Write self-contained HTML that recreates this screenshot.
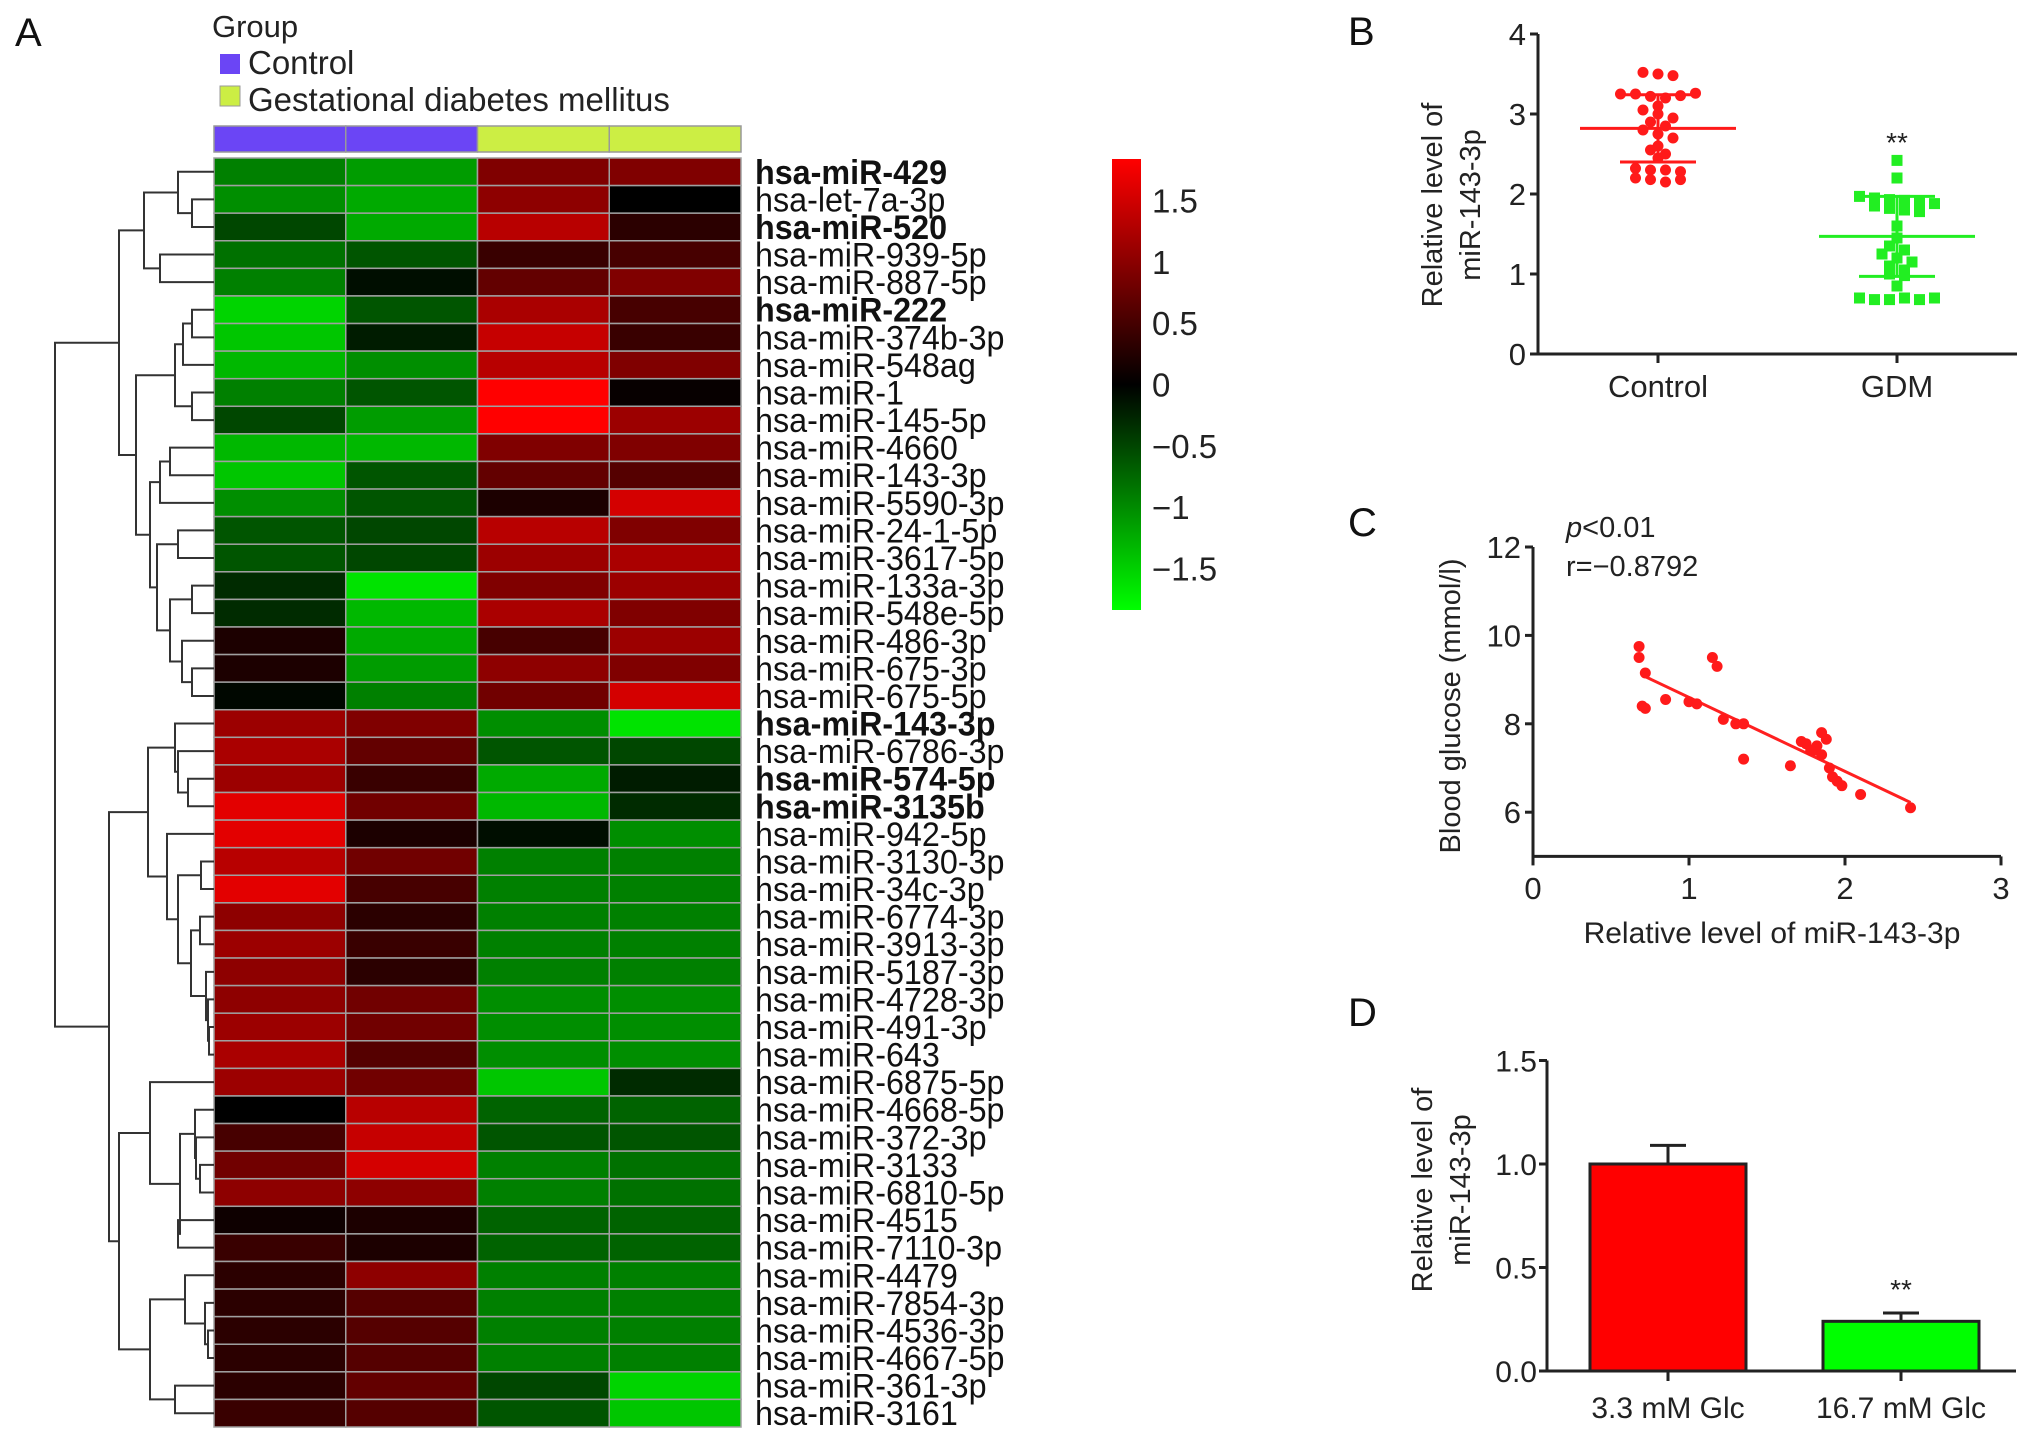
<!DOCTYPE html>
<html><head><meta charset="utf-8"><style>
html,body{margin:0;padding:0;background:#fff}
svg{display:block;font-family:"Liberation Sans",Arial,sans-serif}
</style></head><body>
<svg id="fig" width="2032" height="1445" viewBox="0 0 2032 1445" xmlns="http://www.w3.org/2000/svg">
<g id="A"></g>
<g id="B"></g>
<g id="C"></g>
<g id="D"></g>
</svg>
<script>
// ---------- Panel A data ----------
const geneLabels = ["hsa-miR-429","hsa-let-7a-3p","hsa-miR-520","hsa-miR-939-5p","hsa-miR-887-5p","hsa-miR-222","hsa-miR-374b-3p","hsa-miR-548ag","hsa-miR-1","hsa-miR-145-5p","hsa-miR-4660","hsa-miR-143-3p","hsa-miR-5590-3p","hsa-miR-24-1-5p","hsa-miR-3617-5p","hsa-miR-133a-3p","hsa-miR-548e-5p","hsa-miR-486-3p","hsa-miR-675-3p","hsa-miR-675-5p","hsa-miR-143-3p","hsa-miR-6786-3p","hsa-miR-574-5p","hsa-miR-3135b","hsa-miR-942-5p","hsa-miR-3130-3p","hsa-miR-34c-3p","hsa-miR-6774-3p","hsa-miR-3913-3p","hsa-miR-5187-3p","hsa-miR-4728-3p","hsa-miR-491-3p","hsa-miR-643","hsa-miR-6875-5p","hsa-miR-4668-5p","hsa-miR-372-3p","hsa-miR-3133","hsa-miR-6810-5p","hsa-miR-4515","hsa-miR-7110-3p","hsa-miR-4479","hsa-miR-7854-3p","hsa-miR-4536-3p","hsa-miR-4667-5p","hsa-miR-361-3p","hsa-miR-3161"];
const boldRows = [0,2,5,20,22,23];
const sampleGroups = ["Control","Control","GDM","GDM"];
const heatValues = [
[-0.9,-1.1,0.9,0.9],[-1.0,-1.2,1.0,0.0],[-0.5,-1.2,1.3,0.3],[-0.8,-0.6,0.4,0.5],[-0.9,-0.1,0.7,0.9],
[-1.5,-0.6,1.2,0.5],[-1.4,-0.2,1.4,0.4],[-1.3,-1.0,1.3,0.9],[-0.9,-0.6,1.8,0.05],[-0.5,-1.1,1.8,1.1],
[-1.3,-1.3,0.9,0.9],[-1.4,-0.6,0.7,0.6],[-1.0,-0.6,0.2,1.5],[-0.6,-0.5,1.3,0.9],[-0.6,-0.5,1.1,1.2],
[-0.3,-1.6,0.9,1.1],[-0.3,-1.3,1.2,0.9],[0.2,-1.2,0.5,1.1],[0.2,-1.1,1.0,0.9],[-0.05,-0.9,0.8,1.5],
[1.1,0.9,-1.0,-1.6],[1.2,0.7,-0.6,-0.5],[1.1,0.4,-1.2,-0.2],[1.6,0.8,-1.3,-0.3],[1.6,0.2,-0.1,-1.0],
[1.3,0.8,-0.9,-0.9],[1.6,0.5,-0.9,-0.9],[1.0,0.3,-0.9,-0.9],[1.1,0.4,-0.9,-0.9],[1.0,0.3,-0.9,-0.9],
[1.0,0.8,-1.0,-1.0],[1.1,0.8,-1.0,-1.0],[1.2,0.6,-1.0,-1.0],[1.1,0.8,-1.4,-0.3],[0.0,1.3,-0.7,-0.7],
[0.5,1.4,-0.6,-0.6],[0.8,1.5,-0.9,-0.8],[1.0,1.0,-0.9,-0.8],[0.1,0.2,-0.7,-0.7],[0.4,0.2,-0.7,-0.7],
[0.3,1.0,-0.9,-0.9],[0.3,0.6,-0.9,-0.9],[0.3,0.6,-0.9,-0.9],[0.3,0.6,-0.9,-0.9],[0.3,0.7,-0.5,-1.5],[0.4,0.6,-0.6,-1.4]];
const colorbarTicks = [1.5,1,0.5,0,-0.5,-1,-1.5];
const colorbarTickLabels = ["1.5","1","0.5","0","\u22120.5","\u22121","\u22121.5"];
// dendrogram: [mergeHeight, left, right]
const dendro = [0,
 [55,
  [119,[144,[178,0,[192,1,2]],[160,3,4]],
       [136,[175,[183,[192,5,6],7],[192,8,9]],
            [150,[160,[170,10,11],12],[157,[178,13,14],[170,[192,15,16],[182,17,[192,18,19]]]]]]],
  [109,[148,[175,20,[178,21,[188,22,23]]],[167,24,[178,[201,25,26],[191,[200,27,28],[206,29,[208,30,[209,31,32]]]]]]],
       [119,[150,33,[180,[195,34,[196,35,[200,36,37]]],[178,38,39]]],[150,[185,40,[205,41,[208,42,43]]],[175,44,45]]]]],
 null];

// ---------- Panel B data ----------
const bCategories = ["Control","GDM"];
const bControl = [3.52,3.5,3.48,3.25,3.25,3.22,3.2,3.23,3.26,3.1,3.05,3.0,2.95,2.9,2.85,2.8,2.75,2.7,2.6,2.55,2.5,2.45,2.32,2.3,2.3,2.28,2.2,2.18,2.15,2.18];
const bGDM = [2.42,2.2,1.97,1.95,1.93,1.92,1.9,1.88,1.85,1.82,1.8,1.78,1.6,1.45,1.35,1.3,1.25,1.2,1.15,1.1,1.05,1.0,0.98,0.85,0.7,0.68,0.68,0.7,0.68,0.7];
const bMean = [2.82,1.47];
const bSD = [0.42,0.5];
const bTicks = [0,1,2,3,4];

// ---------- Panel C data ----------
const cX = [0.68,0.68,0.72,0.7,0.72,0.85,1.0,1.05,1.15,1.18,1.22,1.3,1.35,1.35,1.65,1.72,1.75,1.8,1.82,1.85,1.88,1.9,1.92,1.95,1.98,2.1,2.42,1.85,1.78];
const cY = [9.75,9.5,9.15,8.4,8.35,8.55,8.5,8.45,9.5,9.3,8.1,8.0,8.0,7.2,7.05,7.6,7.55,7.4,7.5,7.8,7.65,7.0,6.8,6.7,6.6,6.4,6.1,7.3,7.4];
const cFit = [[0.7,9.1],[2.42,6.22]];
const cXTicks = [0,1,2,3];
const cYTicks = [6,8,10,12];

// ---------- Panel D data ----------
const dCategories = ["3.3 mM Glc","16.7 mM Glc"];
const dValues = [1.0,0.24];
const dErr = [0.09,0.04];
const dTicks = [0,0.5,1.0,1.5];
const dTickLabels = ["0.0","0.5","1.0","1.5"];

const NS="http://www.w3.org/2000/svg";
function mk(parent,tag,attrs,text){const e=document.createElementNS(NS,tag);for(const k in attrs)e.setAttribute(k,attrs[k]);if(text!==undefined)e.textContent=text;parent.appendChild(e);return e;}

// ===== Panel A =====
(function(){
const g=document.getElementById('A');
const hx0=214,hx1=741,top=158,bottom=1427,gTop=126,gBot=152;
const nR=geneLabels.length, rowH=(bottom-top)/nR, colW=(hx1-hx0)/sampleGroups.length;
const rowY=i=>top+i*rowH, colX=j=>hx0+j*colW;
function col(v){const t=Math.max(-1,Math.min(1,v/1.8));return t>=0?`rgb(${Math.round(255*t)},0,0)`:`rgb(0,${Math.round(-255*t)},0)`;}
let t=mk(g,'text',{x:15,y:46,'font-size':40,fill:'#111'},'A');

t=mk(g,'text',{x:212,y:37,'font-size':31,fill:'#222'},'Group');

let r=mk(g,'rect',{x:220,y:54,width:20,height:20,fill:'#6b45f5'});

t=mk(g,'text',{x:248,y:74,'font-size':33,fill:'#222'},'Control');

r=mk(g,'rect',{x:220,y:86,width:20,height:20,fill:'#ccee44',stroke:'#999','stroke-width':1});

t=mk(g,'text',{x:248,y:111,'font-size':33,fill:'#222'},'Gestational diabetes mellitus');

sampleGroups.forEach((s,j)=>{
  const e=mk(g,'rect',{x:colX(j),y:gTop,width:colW,height:gBot-gTop,fill:s==='Control'?'#6b45f5':'#ccee44',stroke:'#999','stroke-width':1.5});
  
});
heatValues.forEach((row,i)=>{row.forEach((v,j)=>{
  const e=mk(g,'rect',{x:colX(j),y:rowY(i),width:colW,height:rowH,fill:col(v),stroke:'#a0a0a0','stroke-width':1.5});
  
});
  const b=boldRows.includes(i);
  const lx=hx1+14;
  const lab=mk(g,'text',{x:lx,y:rowY(i)+rowH*0.5+12,'font-size':34,'font-weight':b?'bold':'normal',fill:'#111',transform:`translate(${lx},0) scale(0.95,1) translate(${-lx},0)`},geneLabels[i]);
  
});
const dg=mk(g,'g',{stroke:'#333','stroke-width':2,fill:'none'});

function draw(node){
  if(typeof node==='number') return {x:hx0,y:rowY(node)+rowH/2};
  const h=node[0],a=draw(node[1]),b=draw(node[2]);
  mk(dg,'path',{d:`M${a.x},${a.y}H${h}V${b.y}H${b.x}`});
  return {x:h,y:(a.y+b.y)/2};
}
draw(dendro[1]);
const cbx=1112,cbw=29,cTop=159,cBot=610,vMax=1.84;
const cy=v=>(cTop+cBot)/2 - v/vMax*(cBot-cTop)/2;
const defs=mk(g,'defs',{});
const lg=mk(defs,'linearGradient',{id:'cbg',x1:0,y1:0,x2:0,y2:1});
mk(lg,'stop',{offset:'0',  'stop-color':'#ff0000'});
mk(lg,'stop',{offset:'0.5','stop-color':'#000000'});
mk(lg,'stop',{offset:'1',  'stop-color':'#00ff00'});
r=mk(g,'rect',{x:cbx,y:cTop,width:cbw,height:cBot-cTop,fill:'url(#cbg)'});

colorbarTicks.forEach((v,i)=>{
  const e=mk(g,'text',{x:cbx+40,y:cy(v)+12,'font-size':33,fill:'#222'},colorbarTickLabels[i]);
  
});
})();

// ===== Panel B =====
(function(){
const g=document.getElementById('B');
const ax=1538,y0=354,pu=80,xEnd=2017;
const ys=v=>y0-v*pu;
const cx=[1658,1897];
let t=mk(g,'text',{x:1348,y:45,'font-size':40,fill:'#111'},'B');

let a=mk(g,'path',{d:`M${ax},${ys(4)}V${y0}H${xEnd}`,stroke:'#222','stroke-width':3,fill:'none'});

bTicks.forEach(v=>{
  mk(g,'line',{x1:ax-8,x2:ax,y1:ys(v),y2:ys(v),stroke:'#222','stroke-width':3});
  const e=mk(g,'text',{x:ax-12,y:ys(v)+11,'font-size':31,'text-anchor':'end',fill:'#222'},String(v));
  
});
bCategories.forEach((c,i)=>{
  mk(g,'line',{x1:cx[i],x2:cx[i],y1:y0,y2:y0+9,stroke:'#222','stroke-width':3});
  const e=mk(g,'text',{x:cx[i],y:397,'font-size':31,'text-anchor':'middle',fill:'#222'},c);
  
});
const yt=mk(g,'text',{transform:'translate(1442,205) rotate(-90)','font-size':29,'text-anchor':'middle',fill:'#222'});
mk(yt,'tspan',{x:0,y:0},'Relative level of');mk(yt,'tspan',{x:0,y:38},'miR-143-3p');

const series=[[bControl,'#ff1a1a','circle'],[bGDM,'#22ee22','square']];
series.forEach(([vals,color,shape],i)=>{
  const bins={};
  vals.forEach(v=>{const k=Math.round(v/0.12);(bins[k]=bins[k]||[]).push(v);});
  Object.keys(bins).forEach(k=>{const arr=bins[k];const n=arr.length;arr.forEach((v,j)=>{
    const x=cx[i]+(j-(n-1)/2)*15;
    let e;
    if(shape==='circle') e=mk(g,'circle',{cx:x,cy:ys(v),r:5.5,fill:color});
    else e=mk(g,'rect',{x:x-5.5,y:ys(v)-5.5,width:11,height:11,fill:color});
    
  });});
  const m=mk(g,'line',{x1:cx[i]-78,x2:cx[i]+78,y1:ys(bMean[i]),y2:ys(bMean[i]),stroke:color,'stroke-width':3});
  
  const lo=bMean[i]-bSD[i],hi=bMean[i]+bSD[i];
  const s=mk(g,'path',{d:`M${cx[i]},${ys(lo)}V${ys(hi)}M${cx[i]-38},${ys(lo)}H${cx[i]+38}M${cx[i]-38},${ys(hi)}H${cx[i]+38}`,stroke:color,'stroke-width':3,fill:'none'});
  
});
t=mk(g,'text',{x:cx[1],y:152,'font-size':28,'text-anchor':'middle',fill:'#222'},'**');

})();

// ===== Panel C =====
(function(){
const g=document.getElementById('C');
const ax=1533,xu=156,y12=547,yu=44.2,ymin=5,xEnd=2001;
const xs=v=>ax+v*xu, ys=v=>y12-(v-12)*yu;
let t=mk(g,'text',{x:1348,y:536,'font-size':40,fill:'#111'},'C');

let a=mk(g,'path',{d:`M${ax},${ys(12)}V${ys(ymin)}H${xEnd}`,stroke:'#222','stroke-width':3,fill:'none'});

cYTicks.forEach(v=>{
  mk(g,'line',{x1:ax-8,x2:ax,y1:ys(v),y2:ys(v),stroke:'#222','stroke-width':3});
  const e=mk(g,'text',{x:ax-12,y:ys(v)+11,'font-size':31,'text-anchor':'end',fill:'#222'},String(v));
  
});
cXTicks.forEach(v=>{
  mk(g,'line',{x1:xs(v),x2:xs(v),y1:ys(ymin),y2:ys(ymin)+9,stroke:'#222','stroke-width':3});
  const e=mk(g,'text',{x:xs(v),y:899,'font-size':31,'text-anchor':'middle',fill:'#222'},String(v));
  
});
t=mk(g,'text',{x:1772,y:943,'font-size':30,'text-anchor':'middle',fill:'#222'},'Relative level of miR-143-3p');

t=mk(g,'text',{transform:'translate(1460,706) rotate(-90)','font-size':29,'text-anchor':'middle',fill:'#222'},'Blood glucose (mmol/l)');

t=mk(g,'text',{x:1566,y:537,'font-size':29,fill:'#222'});
mk(t,'tspan',{'font-style':'italic'},'p');mk(t,'tspan',{},'<0.01');

t=mk(g,'text',{x:1566,y:576,'font-size':29,fill:'#222'},'r=\u22120.8792');

const f=mk(g,'line',{x1:xs(cFit[0][0]),y1:ys(cFit[0][1]),x2:xs(cFit[1][0]),y2:ys(cFit[1][1]),stroke:'#ff2020','stroke-width':3});

cX.forEach((x,i)=>{
  const e=mk(g,'circle',{cx:xs(x),cy:ys(cY[i]),r:5.5,fill:'#ff1a1a'});
  
});
})();

// ===== Panel D =====
(function(){
const g=document.getElementById('D');
const ax=1547,y0=1371,pu=207,xEnd=2016;
const ys=v=>y0-v*pu;
const bx=[1590,1823],bw=156;
let t=mk(g,'text',{x:1348,y:1026,'font-size':40,fill:'#111'},'D');

const colors=['#ff0000','#00ff00'];
dValues.forEach((v,i)=>{
  const cxm=bx[i]+bw/2;
  const e=mk(g,'path',{d:`M${cxm},${ys(v)}V${ys(v+dErr[i])}M${cxm-18},${ys(v+dErr[i])}H${cxm+18}`,stroke:'#222','stroke-width':3,fill:'none'});
  
  const r=mk(g,'rect',{x:bx[i],y:ys(v),width:bw,height:y0-ys(v),fill:colors[i],stroke:'#222','stroke-width':3});
  
  mk(g,'line',{x1:cxm,x2:cxm,y1:y0,y2:y0+10,stroke:'#222','stroke-width':3});
  const l=mk(g,'text',{x:cxm,y:1418,'font-size':30,'text-anchor':'middle',fill:'#222'},dCategories[i]);
  
});
let a=mk(g,'path',{d:`M${ax},${ys(1.5)}V${y0}H${xEnd}`,stroke:'#222','stroke-width':3,fill:'none'});

dTicks.forEach((v,i)=>{
  mk(g,'line',{x1:ax-8,x2:ax,y1:ys(v),y2:ys(v),stroke:'#222','stroke-width':3});
  const e=mk(g,'text',{x:ax-10,y:ys(v)+11,'font-size':30,'text-anchor':'end',fill:'#222'},dTickLabels[i]);
  
});
const yt=mk(g,'text',{transform:'translate(1432,1190) rotate(-90)','font-size':29,'text-anchor':'middle',fill:'#222'});
mk(yt,'tspan',{x:0,y:0},'Relative level of');mk(yt,'tspan',{x:0,y:38},'miR-143-3p');

t=mk(g,'text',{x:bx[1]+bw/2,y:ys(dValues[1]+dErr[1])-14,'font-size':28,'text-anchor':'middle',fill:'#222'},'**');

})();
</script>
</body></html>
